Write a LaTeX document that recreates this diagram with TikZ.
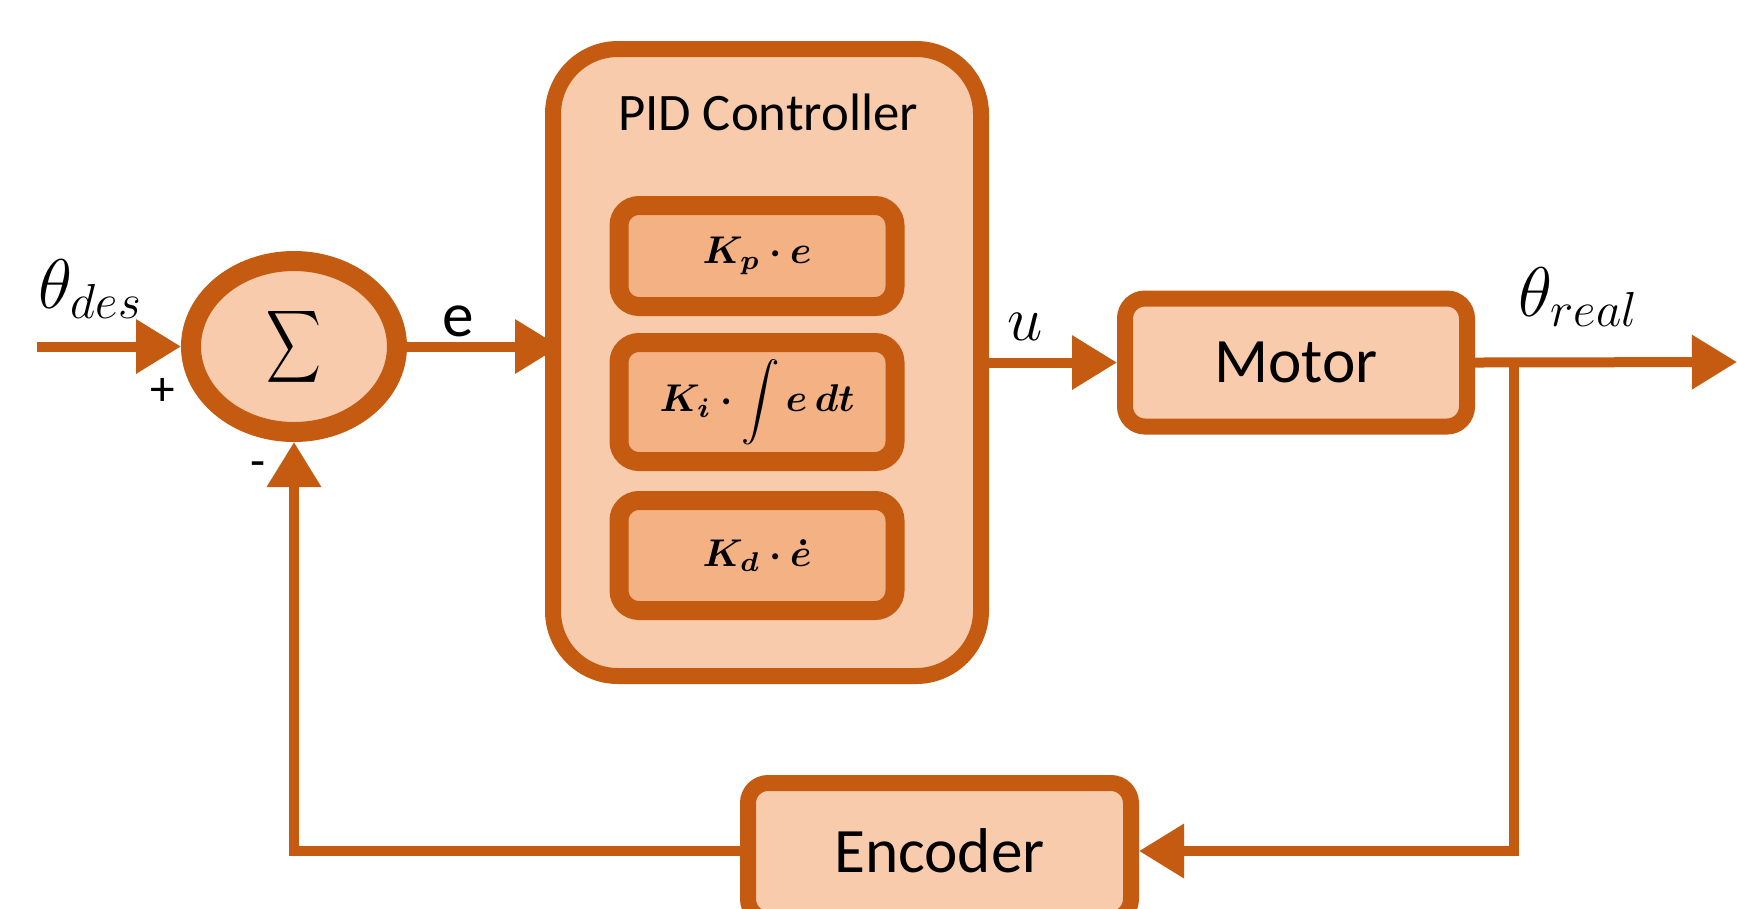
\RequirePackage{fix-cm}
\documentclass[tikz,border=0pt]{standalone}
\usepackage{amsmath}
\usepackage{exscale}
\usepackage{fontspec}
\setmainfont{Carlito}
\usetikzlibrary{positioning, shapes.geometric, arrows.meta}

\definecolor{rust}{HTML}{C55A11}
\definecolor{peach}{HTML}{F8CBAD}
\definecolor{apricot}{HTML}{F4B183}

\tikzset{
    block/.style={draw=rust, fill=peach, line width=0.16cm, rounded corners=0.2cm,
        inner sep=0pt, font=\fontsize{18}{22}\selectfont},
    gain/.style={draw=rust, fill=apricot, line width=0.19cm, rounded corners=0.2cm,
        minimum width=2.76cm, inner sep=0pt, font=\fontsize{11}{13}\selectfont},
    sumnode/.style={ellipse, draw=rust, fill=peach, line width=0.2cm,
        minimum width=2.06cm, minimum height=1.71cm, inner sep=0pt},
    signal/.style={draw=rust, line width=0.1cm, -{Triangle[length=0.45cm, width=0.52cm]}},
    lbl/.style={inner sep=0pt, font=\fontsize{18}{22}\selectfont},
    sgn/.style={inner sep=0pt, font=\fontsize{14}{16}\selectfont},
}

\begin{document}
\begin{tikzpicture}

        \useasboundingbox (0,0) rectangle (17.37,-9.08);

        % Nodes

        \node[sumnode] (sum) at (2.94,-3.465)
            {\scalebox{0.75}[1]{\fontsize{13.5}{16}\selectfont$\displaystyle\sum$}};
        \node[block, rounded corners=0.65cm, minimum width=4.28cm, minimum height=6.27cm] (pid) at (7.67,-3.625) {};
        \node[inner sep=0pt, font=\fontsize{15}{18}\selectfont] (title) at (7.68,-1.12) {PID Controller};
        \node[gain, minimum height=1.01cm] (kp) at (7.57,-2.56) {$\boldsymbol{K_p}\mathbin{\boldsymbol{\cdot}}\boldsymbol{e}$};
        \node[gain, minimum height=1.19cm, below=0.17cm of kp] (ki)
            {$\boldsymbol{K_i}\mathbin{\boldsymbol{\cdot}}\displaystyle\int\boldsymbol{e\,dt}$};
        \node[gain, minimum height=1.10cm, below=0.20cm of ki] (kd) {$\boldsymbol{K_d}\mathbin{\boldsymbol{\cdot}}\boldsymbol{\dot{e}}$};
        \node[block, minimum width=3.42cm, minimum height=1.28cm, right=1.28cm of pid] (motor) {Motor};
        \node[block, minimum width=3.83cm, minimum height=1.36cm] (enc) at (9.395,-8.51) {Encoder};

        \coordinate (in) at (0.37,-3.465);
        \coordinate (out) at (17.37,-3.62);
        \coordinate[right=0.39cm of motor] (tap);

        % Labels

        \node[inner sep=0pt, anchor=base west, font=\fontsize{20}{24}\selectfont] (thdes) at (0.38,-3.08) {$\theta_{des}$};
        \node[inner sep=0pt, anchor=base west, font=\fontsize{20}{24}\selectfont] (threal) at (15.18,-3.16) {$\theta_{real}$};
        \node[lbl] (elbl) at (4.58,-3.21) {e};
        \node[lbl] (ulbl) at (10.25,-3.27) {$u$};
        \node[sgn] (plus) at (1.63,-3.92) {+};
        \node[sgn] (minus) at (2.58,-4.70) {-};

        % Edges

        \draw[signal] (in) -- (sum.west);
        \draw[signal, shorten >=-0.15cm] (sum.east) -- (sum.east -| pid.west);
        \draw[signal] (pid.east) -- (motor.west);
        \draw[signal] (motor.east) -- (out);
        \draw[signal] (tap) |- (enc.east);
        \draw[signal] (enc.west) -| (sum.south);

\end{tikzpicture}
\end{document}
